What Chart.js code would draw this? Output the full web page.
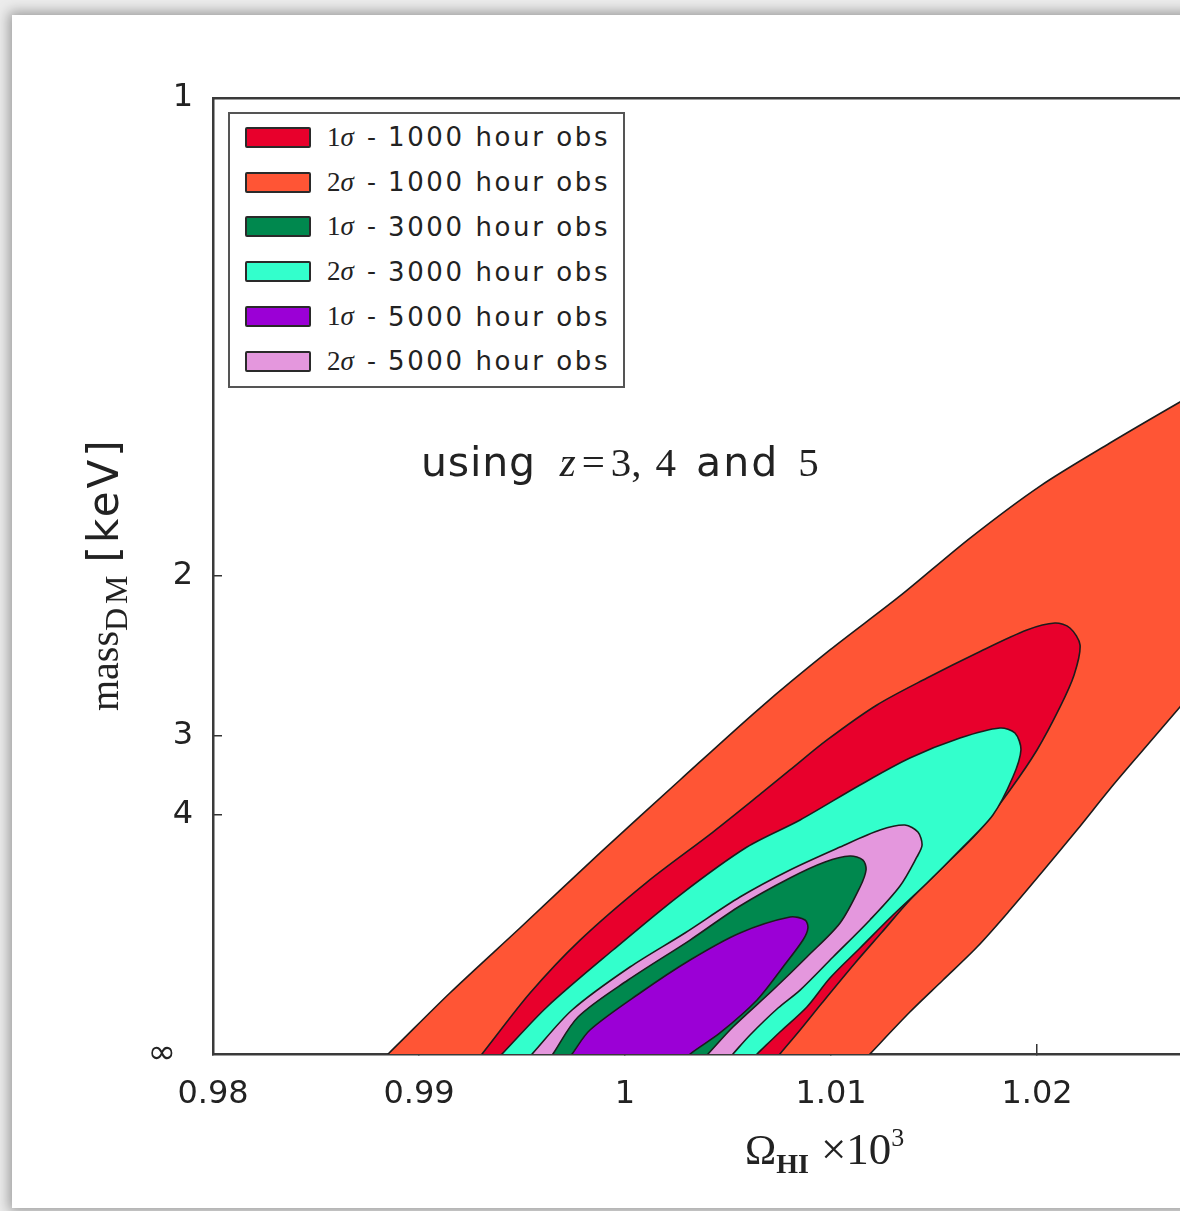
<!DOCTYPE html>
<html>
<head>
<meta charset="utf-8">
<script src="https://cdn.jsdelivr.net/npm/chart.js@4.4.1/dist/chart.umd.min.js"></script>
<style>
html, body { margin: 0; padding: 0; background: #ececec; overflow: hidden; }
#wrap { position: relative; width: 1180px; height: 1211px; overflow: hidden; filter: blur(0.5px); }
#card { position: absolute; left: 12px; top: 15px; width: 1300px; height: 1193px; background: #fff;
        box-shadow: 0 0 12px 3px rgba(0,0,0,0.35); }
#chart { position: absolute; left: 0; top: 0; }
.serif { font-family: "Liberation Serif", "DejaVu Serif", serif; }
.sans { font-family: "DejaVu Sans", sans-serif; }
#legend { position: absolute; left: 228px; top: 112px; width: 393px; height: 271px;
          border: 2px solid #555; background: #fff; padding-top: 1px; box-sizing: content-box; }
.row { height: 44.8px; display: flex; align-items: center; color: #222; white-space: nowrap; }
.swatch { width: 62px; height: 17px; margin-left: 15px; margin-right: 16px; border: 2px solid #2a2a2a; border-radius: 2px; }
.sig { font-size: 27px; width: 34px; }
.dash { font-size: 25px; margin: 0 12px 0 6px; }
.obs { font-size: 26px; letter-spacing: 2.6px; }
#note { position: absolute; left: 421px; top: 442px; line-height: 41px; font-size: 41px; color: #222; white-space: nowrap; }
#ytitle { position: absolute; left: 79px; top: 711px; line-height: 50px; color: #222; white-space: nowrap;
          transform: rotate(-90deg); transform-origin: 0 0; }
#xtitle { position: absolute; left: 745px; top: 1128px; line-height: 42px; color: #222; white-space: nowrap; }
</style>
</head>
<body>
<div id="wrap">
  <div id="card"></div>
  <canvas id="chart" width="1260" height="1211"></canvas>
  <div id="legend"></div>
  <div id="note"><span class="sans" style="letter-spacing:0.8px">using</span><span class="serif" style="margin-left:24px"><i>z</i></span><span class="serif" style="margin:0 6px">=</span><span class="serif">3,</span><span class="serif" style="margin-left:14px">4</span><span class="sans" style="margin-left:20px;letter-spacing:2px">and</span><span class="serif" style="margin-left:19px">5</span></div>
  <div id="ytitle"><span class="serif" style="font-size:40px">mass</span><span class="serif" style="font-size:32px;letter-spacing:4px;margin-right:9px;position:relative;top:9px;line-height:0">DM</span><span class="sans" style="font-size:42px;letter-spacing:3px">[keV]</span></div>
  <div id="xtitle"><span class="serif" style="font-size:42px">Ω</span><span class="serif" style="font-size:28px;font-weight:bold;margin-right:12px;position:relative;top:9px;line-height:0">HI</span><span class="serif" style="font-size:45px">×10</span><span class="serif" style="font-size:26px;position:relative;top:-18px;line-height:0">3</span></div>
</div>
<script>
// axis ticks: x is Omega_HI x 10^3, y is 1/mass so the labels show the mass
var xTicks = [0.98, 0.99, 1.0, 1.01, 1.02];
var xTickLabels = ["0.98", "0.99", "1", "1.01", "1.02"];
var yTicks = [1, 0.5, 0.3333, 0.25, 0];
var yTickLabels = ["1", "2", "3", "4", "\u221e\u2002"];

var sigmaLabels = ["1\u03c3", "2\u03c3", "1\u03c3", "2\u03c3", "1\u03c3", "2\u03c3"];
var obsLabels = ["1000 hour obs", "1000 hour obs", "3000 hour obs", "3000 hour obs", "5000 hour obs", "5000 hour obs"];
var fillColors = ["#e8002c", "#ff5535", "#00884e", "#33ffcc", "#9b00d6", "#e497dd"];
var drawOrder = [4, 5, 1, 3, 0, 2];

// contour outlines (x, 1/mass), closed; they run a little under the axis so the corners get clipped
var s1h1000X = [0.99194, 0.99306, 0.99539, 0.99782, 1.00107, 1.00427, 1.00670, 1.00801, 1.00981, 1.01223, 1.01466, 1.01709, 1.01951, 1.02087, 1.02160, 1.02209,
                1.02180, 1.02112, 1.02000, 1.01869, 1.01709, 1.01544, 1.01383, 1.01248, 1.01117, 1.00956, 1.00850, 1.00752, 1.00636, 0.99194];
var s1h1000Y = [-0.03, 0, 0.0638, 0.1192, 0.1799, 0.2322, 0.2741, 0.2971, 0.3285, 0.3651, 0.3933, 0.4195, 0.4435, 0.4508, 0.4456, 0.4278,
                0.3964, 0.3630, 0.3180, 0.2762, 0.2312, 0.1956, 0.1611, 0.1276, 0.0952, 0.0533, 0.0251, 0, -0.03, -0.03];

var s2h1000X = [0.98704, 0.98850, 0.99150, 0.99490, 0.99879, 1.00267, 1.00655, 1.00995, 1.01335, 1.01675, 1.02015, 1.02354, 1.02694, 1.03034,
                1.03034, 1.02694, 1.02515, 1.02354, 1.02194, 1.02029, 1.01869, 1.01709, 1.01544, 1.01383, 1.01189, 1.01058, 0.98704];
var s2h1000Y = [-0.03, 0, 0.0638, 0.1318, 0.2103, 0.2866, 0.3619, 0.4226, 0.4791, 0.5397, 0.5941, 0.6391, 0.6820, 0.7238,
                0.4487, 0.3630, 0.3180, 0.2772, 0.2343, 0.1914, 0.1506, 0.1119, 0.0774, 0.0439, 0, -0.03, -0.03];

var s1h3000X = [0.99553, 0.99650, 0.99772, 1.00015, 1.00316, 1.00558, 1.00801, 1.00971, 1.01092, 1.01155, 1.01170,
                1.01141, 1.01044, 1.00883, 1.00718, 1.00524, 1.00403, 1.00272, 0.99553];
var s1h3000Y = [-0.03, 0, 0.0387, 0.0774, 0.1192, 0.1548, 0.1841, 0.2008, 0.2071, 0.2029, 0.1925,
                0.1747, 0.1370, 0.1015, 0.0669, 0.0282, 0, -0.03, -0.03];

var s2h3000X = [0.99267, 0.99403, 0.99621, 0.99942, 1.00267, 1.00592, 1.00850, 1.01141, 1.01383, 1.01626, 1.01820, 1.01893, 1.01922,
                1.01883, 1.01786, 1.01626, 1.01466, 1.01301, 1.01141, 1.00995, 1.00883, 1.00752, 1.00641, 1.00495, 0.99267];
var s2h3000Y = [-0.03, 0, 0.0492, 0.1088, 0.1663, 0.2165, 0.2448, 0.2814, 0.3096, 0.3305, 0.3410, 0.3358, 0.3180,
                0.2897, 0.2500, 0.2134, 0.1789, 0.1454, 0.1109, 0.0795, 0.0492, 0.0230, 0, -0.03, -0.03];

var s1h5000X = [0.99636, 0.99743, 0.99830, 1.00073, 1.00316, 1.00558, 1.00801, 1.00874, 1.00888,
                1.00864, 1.00767, 1.00641, 1.00461, 1.00316, 1.00160, 0.99636];
var s1h5000Y = [-0.03, 0, 0.0251, 0.0638, 0.0983, 0.1266, 0.1433, 0.1402, 0.1318,
                0.1192, 0.0910, 0.0565, 0.0220, 0, -0.03, -0.03];

var s2h5000X = [0.99422, 0.99549, 0.99743, 1.00024, 1.00291, 1.00558, 1.00801, 1.01044, 1.01238, 1.01359, 1.01422, 1.01442,
                1.01417, 1.01335, 1.01189, 1.01010, 1.00850, 1.00743, 1.00607, 1.00524, 1.00398, 0.99422];
var s2h5000Y = [-0.03, 0, 0.0460, 0.0910, 0.1266, 0.1642, 0.1925, 0.2165, 0.2343, 0.2395, 0.2322, 0.2186,
                0.2061, 0.1757, 0.1402, 0.1015, 0.0669, 0.0481, 0.0199, 0, -0.03, -0.03];

var outlinesX = [s1h1000X, s2h1000X, s1h3000X, s2h3000X, s1h5000X, s2h5000X];
var outlinesY = [s1h1000Y, s2h1000Y, s1h3000Y, s2h3000Y, s1h5000Y, s2h5000Y];

function toPoints(xs, ys) {
  return xs.map(function (x, i) { return { x: x, y: ys[i] }; });
}

var datasets = [];
for (var i = 0; i < outlinesX.length; i++) {
  datasets.push({
    label: sigmaLabels[i] + " - " + obsLabels[i],
    data: toPoints(outlinesX[i], outlinesY[i]),
    backgroundColor: fillColors[i],
    borderColor: "#1c1c1c",
    borderWidth: 1.6,
    fill: "shape",
    order: drawOrder[i],
    pointRadius: 0,
    tension: 0.3
  });
}

// legend box inside the axes
var legend = document.getElementById("legend");
for (var j = 0; j < sigmaLabels.length; j++) {
  var row = document.createElement("div");
  row.className = "row";
  row.innerHTML = '<div class="swatch" style="background:' + fillColors[j] + '"></div>' +
    '<span class="serif sig">' + sigmaLabels[j].charAt(0) + '<i>' + sigmaLabels[j].charAt(1) + '</i></span>' +
    '<span class="sans dash">-</span><span class="sans obs">' + obsLabels[j] + '</span>';
  legend.appendChild(row);
}

var tickFont = { family: "DejaVu Sans", size: 32 };

new Chart(document.getElementById("chart"), {
  type: "line",
  data: { datasets: datasets },
  options: {
    responsive: false,
    animation: false,
    devicePixelRatio: 1,
    layout: { padding: { left: 0, top: 98, right: 17, bottom: 0 } },
    plugins: { legend: { display: false }, tooltip: { enabled: false } },
    scales: {
      x: {
        type: "linear", position: "bottom", min: 0.98, max: 1.03, z: 1,
        afterBuildTicks: function (s) { s.ticks = xTicks.map(function (v) { return { value: v }; }); },
        afterFit: function (s) { s.height = 157; },
        grid: { display: true, drawOnChartArea: false, drawTicks: true, tickLength: -10, color: "#333", lineWidth: 1.5 },
        border: { display: true, color: "#3a3a3a", width: 2.5 },
        ticks: {
          autoSkip: false, maxRotation: 0, padding: 31, color: "#222", font: tickFont,
          callback: function (v, i) { return xTickLabels[i]; }
        }
      },
      x2: {
        type: "linear", position: "top", min: 0.98, max: 1.03, z: 1,
        afterFit: function (s) { s.height = 0; },
        grid: { display: false },
        border: { display: true, color: "#3a3a3a", width: 2.5 },
        ticks: { display: false }
      },
      y: {
        type: "linear", position: "left", min: 0, max: 1, z: 1,
        afterBuildTicks: function (s) { s.ticks = yTicks.map(function (v) { return { value: v }; }); },
        afterFit: function (s) { s.width = 213; },
        grid: { display: true, drawOnChartArea: false, drawTicks: true, tickLength: -9, color: "#333", lineWidth: 1.5 },
        border: { display: true, color: "#3a3a3a", width: 2.5 },
        ticks: {
          autoSkip: false, padding: 29, color: "#222",
          font: function (ctx) {
            return ctx.tick && ctx.tick.value === 0 ? { family: "DejaVu Sans", size: 34 } : tickFont;
          },
          callback: function (v, i) { return yTickLabels[i]; }
        }
      }
    }
  }
});
</script>
</body>
</html>
